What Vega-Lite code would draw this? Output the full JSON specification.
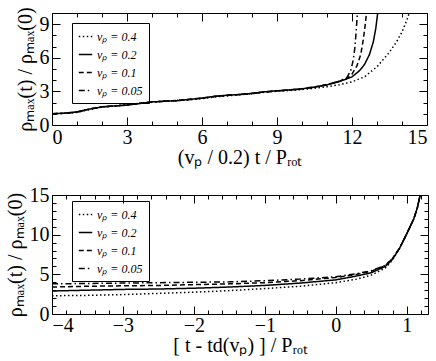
{
"$schema":"https://vega.github.io/schema/vega-lite/v6.json",
"padding":{"left":4,"top":5,"right":0,"bottom":0},
"spacing":16,
"resolve":{"scale":{"strokeDash":"independent"},"legend":{"strokeDash":"independent"}},
"config":{
 "view":{"stroke":"black","strokeWidth":1},
 "font":"Liberation Serif",
 "axis":{"labelFont":"Liberation Serif","titleFont":"Liberation Serif","labelFontSize":20,"titleFontSize":20,"titleFontWeight":"normal","labelColor":"black","titleColor":"black","tickColor":"black","domain":false,"grid":false},
 "legend":{"labelFont":"Liberation Serif","labelFontStyle":"italic","labelFontSize":12,"labelColor":"black"}
},
"datasets":{
"top":[
{"s":"0.4","x":0,"y":1.0},{"s":"0.4","x":0.5,"y":1.04},{"s":"0.4","x":1,"y":1.13},{"s":"0.4","x":1.5,"y":1.38},{"s":"0.4","x":2,"y":1.6},{"s":"0.4","x":2.5,"y":1.72},{"s":"0.4","x":3,"y":1.8},{"s":"0.4","x":3.5,"y":1.93},{"s":"0.4","x":4,"y":2.05},{"s":"0.4","x":4.5,"y":2.13},{"s":"0.4","x":5,"y":2.17},{"s":"0.4","x":5.5,"y":2.25},{"s":"0.4","x":6,"y":2.35},{"s":"0.4","x":6.5,"y":2.5},{"s":"0.4","x":7,"y":2.6},{"s":"0.4","x":7.5,"y":2.7},{"s":"0.4","x":8,"y":2.8},{"s":"0.4","x":8.5,"y":2.92},{"s":"0.4","x":9,"y":3.02},{"s":"0.4","x":9.5,"y":3.08},{"s":"0.4","x":10,"y":3.17},{"s":"0.4","x":10.5,"y":3.28},{"s":"0.4","x":11,"y":3.42},{"s":"0.4","x":11.5,"y":3.6},{"s":"0.4","x":12,"y":3.85},{"s":"0.4","x":12.5,"y":4.3},{"s":"0.4","x":13,"y":5.2},{"s":"0.4","x":13.5,"y":6.5},{"s":"0.4","x":13.8,"y":7.5},{"s":"0.4","x":14,"y":8.3},{"s":"0.4","x":14.2,"y":9.4},{"s":"0.4","x":14.35,"y":10.4},
{"s":"0.2","x":0,"y":1.0},{"s":"0.2","x":0.5,"y":1.06},{"s":"0.2","x":1,"y":1.17},{"s":"0.2","x":1.5,"y":1.42},{"s":"0.2","x":2,"y":1.62},{"s":"0.2","x":2.5,"y":1.7},{"s":"0.2","x":3,"y":1.77},{"s":"0.2","x":3.5,"y":1.92},{"s":"0.2","x":4,"y":2.06},{"s":"0.2","x":4.5,"y":2.12},{"s":"0.2","x":5,"y":2.18},{"s":"0.2","x":5.5,"y":2.28},{"s":"0.2","x":6,"y":2.4},{"s":"0.2","x":6.5,"y":2.56},{"s":"0.2","x":7,"y":2.66},{"s":"0.2","x":7.5,"y":2.72},{"s":"0.2","x":8,"y":2.82},{"s":"0.2","x":8.5,"y":2.96},{"s":"0.2","x":9,"y":3.06},{"s":"0.2","x":9.5,"y":3.13},{"s":"0.2","x":10,"y":3.23},{"s":"0.2","x":10.5,"y":3.38},{"s":"0.2","x":11,"y":3.58},{"s":"0.2","x":11.5,"y":3.88},{"s":"0.2","x":12,"y":4.3},{"s":"0.2","x":12.3,"y":4.85},{"s":"0.2","x":12.5,"y":5.4},{"s":"0.2","x":12.7,"y":6.3},{"s":"0.2","x":12.85,"y":7.4},{"s":"0.2","x":12.95,"y":8.6},{"s":"0.2","x":13.05,"y":10.4},
{"s":"0.1","x":0,"y":1.0},{"s":"0.1","x":0.5,"y":1.05},{"s":"0.1","x":1,"y":1.16},{"s":"0.1","x":1.5,"y":1.44},{"s":"0.1","x":2,"y":1.63},{"s":"0.1","x":2.5,"y":1.7},{"s":"0.1","x":3,"y":1.79},{"s":"0.1","x":3.5,"y":1.94},{"s":"0.1","x":4,"y":2.04},{"s":"0.1","x":4.5,"y":2.14},{"s":"0.1","x":5,"y":2.19},{"s":"0.1","x":5.5,"y":2.29},{"s":"0.1","x":6,"y":2.41},{"s":"0.1","x":6.5,"y":2.55},{"s":"0.1","x":7,"y":2.64},{"s":"0.1","x":7.5,"y":2.73},{"s":"0.1","x":8,"y":2.83},{"s":"0.1","x":8.5,"y":2.95},{"s":"0.1","x":9,"y":3.05},{"s":"0.1","x":9.5,"y":3.14},{"s":"0.1","x":10,"y":3.24},{"s":"0.1","x":10.5,"y":3.4},{"s":"0.1","x":11,"y":3.6},{"s":"0.1","x":11.5,"y":3.92},{"s":"0.1","x":11.8,"y":4.15},{"s":"0.1","x":12,"y":4.55},{"s":"0.1","x":12.2,"y":5.3},{"s":"0.1","x":12.35,"y":6.3},{"s":"0.1","x":12.45,"y":7.6},{"s":"0.1","x":12.52,"y":8.8},{"s":"0.1","x":12.6,"y":10.4},
{"s":"0.05","x":0,"y":1.0},{"s":"0.05","x":0.5,"y":1.05},{"s":"0.05","x":1,"y":1.15},{"s":"0.05","x":1.5,"y":1.4},{"s":"0.05","x":2,"y":1.61},{"s":"0.05","x":2.5,"y":1.71},{"s":"0.05","x":3,"y":1.78},{"s":"0.05","x":3.5,"y":1.93},{"s":"0.05","x":4,"y":2.05},{"s":"0.05","x":4.5,"y":2.13},{"s":"0.05","x":5,"y":2.18},{"s":"0.05","x":5.5,"y":2.27},{"s":"0.05","x":6,"y":2.4},{"s":"0.05","x":6.5,"y":2.54},{"s":"0.05","x":7,"y":2.65},{"s":"0.05","x":7.5,"y":2.71},{"s":"0.05","x":8,"y":2.81},{"s":"0.05","x":8.5,"y":2.94},{"s":"0.05","x":9,"y":3.04},{"s":"0.05","x":9.5,"y":3.12},{"s":"0.05","x":10,"y":3.22},{"s":"0.05","x":10.5,"y":3.39},{"s":"0.05","x":11,"y":3.6},{"s":"0.05","x":11.5,"y":3.92},{"s":"0.05","x":11.8,"y":4.25},{"s":"0.05","x":11.95,"y":4.85},{"s":"0.05","x":12.05,"y":5.8},{"s":"0.05","x":12.12,"y":7.0},{"s":"0.05","x":12.17,"y":8.5},{"s":"0.05","x":12.23,"y":10.4}
],
"bot":[
{"s":"0.4","x":-4,"y":2.3},{"s":"0.4","x":-3.5,"y":2.35},{"s":"0.4","x":-3,"y":2.45},{"s":"0.4","x":-2.5,"y":2.6},{"s":"0.4","x":-2,"y":2.75},{"s":"0.4","x":-1.5,"y":2.95},{"s":"0.4","x":-1,"y":3.2},{"s":"0.4","x":-0.5,"y":3.5},{"s":"0.4","x":0,"y":3.95},{"s":"0.4","x":0.3,"y":4.4},{"s":"0.4","x":0.5,"y":4.9},{"s":"0.4","x":0.7,"y":5.8},{"s":"0.4","x":0.8,"y":6.8},{"s":"0.4","x":0.9,"y":8.3},{"s":"0.4","x":1.0,"y":10.1},{"s":"0.4","x":1.1,"y":12.0},{"s":"0.4","x":1.15,"y":13.4},{"s":"0.4","x":1.2,"y":15.4},
{"s":"0.2","x":-4,"y":2.9},{"s":"0.2","x":-3.5,"y":3.0},{"s":"0.2","x":-3,"y":3.1},{"s":"0.2","x":-2.5,"y":3.15},{"s":"0.2","x":-2,"y":3.25},{"s":"0.2","x":-1.5,"y":3.4},{"s":"0.2","x":-1,"y":3.6},{"s":"0.2","x":-0.5,"y":3.9},{"s":"0.2","x":0,"y":4.3},{"s":"0.2","x":0.3,"y":4.8},{"s":"0.2","x":0.5,"y":5.2},{"s":"0.2","x":0.7,"y":6.0},{"s":"0.2","x":0.8,"y":6.9},{"s":"0.2","x":0.9,"y":8.3},{"s":"0.2","x":1.0,"y":10.1},{"s":"0.2","x":1.1,"y":12.0},{"s":"0.2","x":1.15,"y":13.4},{"s":"0.2","x":1.2,"y":15.4},
{"s":"0.1","x":-4,"y":3.4},{"s":"0.1","x":-3.5,"y":3.5},{"s":"0.1","x":-3,"y":3.55},{"s":"0.1","x":-2.5,"y":3.6},{"s":"0.1","x":-2,"y":3.7},{"s":"0.1","x":-1.5,"y":3.8},{"s":"0.1","x":-1,"y":3.95},{"s":"0.1","x":-0.5,"y":4.2},{"s":"0.1","x":0,"y":4.6},{"s":"0.1","x":0.3,"y":5.0},{"s":"0.1","x":0.5,"y":5.4},{"s":"0.1","x":0.7,"y":6.1},{"s":"0.1","x":0.8,"y":7.0},{"s":"0.1","x":0.9,"y":8.3},{"s":"0.1","x":1.0,"y":10.1},{"s":"0.1","x":1.1,"y":12.0},{"s":"0.1","x":1.15,"y":13.4},{"s":"0.1","x":1.2,"y":15.4},
{"s":"0.05","x":-4,"y":3.8},{"s":"0.05","x":-3.5,"y":3.85},{"s":"0.05","x":-3,"y":3.9},{"s":"0.05","x":-2.5,"y":3.95},{"s":"0.05","x":-2,"y":4.0},{"s":"0.05","x":-1.5,"y":4.05},{"s":"0.05","x":-1,"y":4.2},{"s":"0.05","x":-0.5,"y":4.4},{"s":"0.05","x":0,"y":4.7},{"s":"0.05","x":0.3,"y":5.1},{"s":"0.05","x":0.5,"y":5.45},{"s":"0.05","x":0.7,"y":6.15},{"s":"0.05","x":0.8,"y":7.0},{"s":"0.05","x":0.9,"y":8.3},{"s":"0.05","x":1.0,"y":10.1},{"s":"0.05","x":1.1,"y":12.0},{"s":"0.05","x":1.15,"y":13.4},{"s":"0.05","x":1.2,"y":15.4}
]
},
"vconcat":[
{
 "width":375,"height":112,
 "data":{"name":"top"},
 "resolve":{"axis":{"x":"independent","y":"independent"}},
 "layer":[
  {"mark":{"type":"line","clip":true,"strokeWidth":1.5,"color":"black"},
   "encoding":{
    "x":{"field":"x","type":"quantitative","scale":{"domain":[0,15],"nice":false,"zero":false},"axis":{"values":[0,3,6,9,12,15],"ticks":false,"labelPadding":2,"labelFont":"Liberation Serif","title":"(vₚ / 0.2) t / Pᵣₒₜ","titlePadding":0}},
    "y":{"field":"y","type":"quantitative","scale":{"domain":[0,10],"nice":false,"zero":false},"axis":{"values":[0,3,6,9],"ticks":false,"labelPadding":3,"labelFont":"Liberation Serif","title":"ρₘₐₓ(t) / ρₘₐₓ(0)","titlePadding":4}},
    "strokeDash":{"field":"s","type":"nominal","scale":{"domain":["0.4","0.2","0.1","0.05"],"range":[[1.5,2.5],[1,0],[5,3],[6,3,1.5,3]]},
     "legend":{"title":null,"orient":"none","legendX":20,"legendY":10,"strokeColor":"black","padding":6,"symbolType":"stroke","symbolSize":180,"symbolStrokeWidth":1.5,"symbolStrokeColor":"black","rowPadding":4,"labelExpr":"'vₚ = ' + datum.label"}}
   }},
  {"mark":{"type":"point","opacity":0},
   "encoding":{
    "x":{"field":"x","type":"quantitative","scale":{"domain":[0,15],"nice":false,"zero":false},"axis":{"orient":"bottom","values":[0,3,6,9,12,15],"labels":false,"tickSize":-8,"title":null}},
    "y":{"field":"y","type":"quantitative","scale":{"domain":[0,10],"nice":false,"zero":false},"axis":{"orient":"left","values":[0,3,6,9],"labels":false,"tickSize":-8,"title":null}}}},
  {"mark":{"type":"point","opacity":0},
   "encoding":{
    "x":{"field":"x","type":"quantitative","scale":{"domain":[0,15],"nice":false,"zero":false},"axis":{"orient":"bottom","values":[1,2,4,5,7,8,10,11,13,14],"labels":false,"tickSize":-4,"title":null}},
    "y":{"field":"y","type":"quantitative","scale":{"domain":[0,10],"nice":false,"zero":false},"axis":{"orient":"left","values":[1,2,4,5,7,8,10],"labels":false,"tickSize":-4,"title":null}}}},
  {"mark":{"type":"point","opacity":0},
   "encoding":{
    "x":{"field":"x","type":"quantitative","scale":{"domain":[0,15],"nice":false,"zero":false},"axis":{"orient":"top","values":[0,3,6,9,12,15],"labels":false,"tickSize":-8,"title":null}},
    "y":{"field":"y","type":"quantitative","scale":{"domain":[0,10],"nice":false,"zero":false},"axis":{"orient":"right","values":[0,3,6,9],"labels":false,"tickSize":-8,"title":null}}}},
  {"mark":{"type":"point","opacity":0},
   "encoding":{
    "x":{"field":"x","type":"quantitative","scale":{"domain":[0,15],"nice":false,"zero":false},"axis":{"orient":"top","values":[1,2,4,5,7,8,10,11,13,14],"labels":false,"tickSize":-4,"title":null}},
    "y":{"field":"y","type":"quantitative","scale":{"domain":[0,10],"nice":false,"zero":false},"axis":{"orient":"right","values":[1,2,4,5,7,8,10],"labels":false,"tickSize":-4,"title":null}}}}
 ]
},
{
 "width":376,"height":119,
 "data":{"name":"bot"},
 "resolve":{"axis":{"x":"independent","y":"independent"}},
 "layer":[
  {"mark":{"type":"line","clip":true,"strokeWidth":1.5,"color":"black"},
   "encoding":{
    "x":{"field":"x","type":"quantitative","scale":{"domain":[-4,1.3],"nice":false,"zero":false},"axis":{"values":[-4,-3,-2,-1,0,1],"ticks":false,"labelPadding":1,"labelFont":"Liberation Serif","title":"[ t - td(vₚ) ] / Pᵣₒₜ","titlePadding":0}},
    "y":{"field":"y","type":"quantitative","scale":{"domain":[0,15],"nice":false,"zero":false},"axis":{"values":[0,5,10,15],"ticks":false,"labelPadding":3,"labelFont":"Liberation Serif","title":"ρₘₐₓ(t) / ρₘₐₓ(0)","titlePadding":4}},
    "strokeDash":{"field":"s","type":"nominal","scale":{"domain":["0.4","0.2","0.1","0.05"],"range":[[1.5,2.5],[1,0],[5,3],[6,3,1.5,3]]},
     "legend":{"title":null,"orient":"none","legendX":20,"legendY":6,"strokeColor":"black","padding":6,"symbolType":"stroke","symbolSize":180,"symbolStrokeWidth":1.5,"symbolStrokeColor":"black","rowPadding":4,"labelExpr":"'vₚ = ' + datum.label"}}
   }},
  {"mark":{"type":"point","opacity":0},
   "encoding":{
    "x":{"field":"x","type":"quantitative","scale":{"domain":[-4,1.3],"nice":false,"zero":false},"axis":{"orient":"bottom","values":[-4,-3,-2,-1,0,1],"labels":false,"tickSize":-8,"title":null}},
    "y":{"field":"y","type":"quantitative","scale":{"domain":[0,15],"nice":false,"zero":false},"axis":{"orient":"left","values":[0,5,10,15],"labels":false,"tickSize":-8,"title":null}}}},
  {"mark":{"type":"point","opacity":0},
   "encoding":{
    "x":{"field":"x","type":"quantitative","scale":{"domain":[-4,1.3],"nice":false,"zero":false},"axis":{"orient":"bottom","values":[-3.8,-3.6,-3.4,-3.2,-2.8,-2.6,-2.4,-2.2,-1.8,-1.6,-1.4,-1.2,-0.8,-0.6,-0.4,-0.2,0.2,0.4,0.6,0.8,1.2],"labels":false,"tickSize":-4,"title":null}},
    "y":{"field":"y","type":"quantitative","scale":{"domain":[0,15],"nice":false,"zero":false},"axis":{"orient":"left","values":[1,2,3,4,6,7,8,9,11,12,13,14],"labels":false,"tickSize":-4,"title":null}}}},
  {"mark":{"type":"point","opacity":0},
   "encoding":{
    "x":{"field":"x","type":"quantitative","scale":{"domain":[-4,1.3],"nice":false,"zero":false},"axis":{"orient":"top","values":[-4,-3,-2,-1,0,1],"labels":false,"tickSize":-8,"title":null}},
    "y":{"field":"y","type":"quantitative","scale":{"domain":[0,15],"nice":false,"zero":false},"axis":{"orient":"right","values":[0,5,10,15],"labels":false,"tickSize":-8,"title":null}}}},
  {"mark":{"type":"point","opacity":0},
   "encoding":{
    "x":{"field":"x","type":"quantitative","scale":{"domain":[-4,1.3],"nice":false,"zero":false},"axis":{"orient":"top","values":[-3.8,-3.6,-3.4,-3.2,-2.8,-2.6,-2.4,-2.2,-1.8,-1.6,-1.4,-1.2,-0.8,-0.6,-0.4,-0.2,0.2,0.4,0.6,0.8,1.2],"labels":false,"tickSize":-4,"title":null}},
    "y":{"field":"y","type":"quantitative","scale":{"domain":[0,15],"nice":false,"zero":false},"axis":{"orient":"right","values":[1,2,3,4,6,7,8,9,11,12,13,14],"labels":false,"tickSize":-4,"title":null}}}}
 ]
}
]
}
